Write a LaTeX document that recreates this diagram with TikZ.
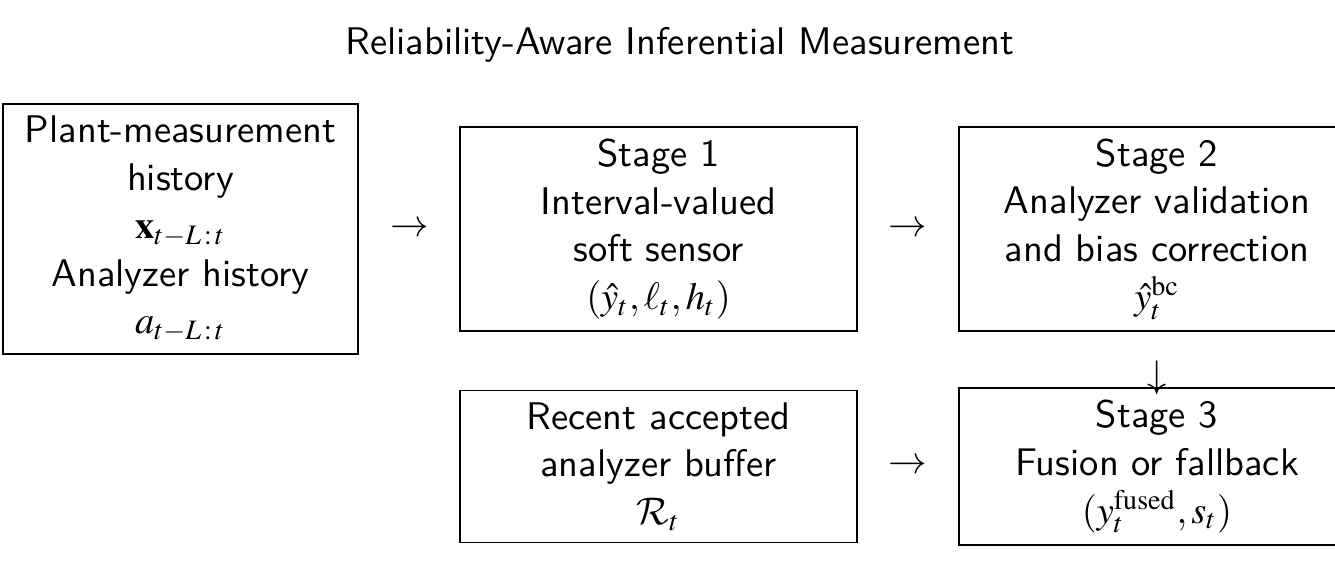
\documentclass[tikz,border=0pt]{standalone}
\usepackage{amsmath,amssymb}
\usepackage{mathptmx}
\DeclareMathAlphabet{\mathcal}{OMS}{cmsy}{m}{n}
\usepackage{xcolor}
\usepackage{tikz}
\usetikzlibrary{calc}
\definecolor{ink}{HTML}{000000}
\tikzset{
  stagebox/.style={draw=ink, line width=0.5pt, align=center, text=ink,
    font=\sffamily\fontsize{10.95}{13.6}\selectfont},
  widebox/.style={stagebox, text width=3.73cm},
  histbox/.style={stagebox, text width=3.32cm},
  flowsym/.style={text=ink, inner sep=0pt, font=\fontsize{10.95}{13.6}\selectfont},
  headline/.style={text=ink, font=\sffamily\fontsize{10.95}{13.6}\selectfont}
}
\begin{document}
\begin{tikzpicture}
  \useasboundingbox (0,0) rectangle (13.35,-5.65);

  \node[headline] (title) at (6.8,-0.45) {Reliability-Aware Inferential Measurement};

  \node[histbox] (hist) at (1.805,-2.29)
    {Plant-measurement\\history\\$\mathbf{x}_{t-L\,:\,t}$\\Analyzer history\\$a_{t-L\,:\,t}$};

  \node[widebox] (s1) at (6.585,-2.29)
    {Stage 1\\Interval-valued\\soft sensor\\$(\hat{y}_t, \ell_t, h_t)$};
  \node[widebox] (s2) at (11.57,-2.29)
    {Stage 2\\Analyzer validation\\and bias correction\\$\hat{y}_t^{\mathrm{bc}}$};

  \node[widebox] (buf) at (6.585,-4.665)
    {Recent accepted\\analyzer buffer\\$\mathcal{R}_t$};
  \node[widebox] (s3) at (11.57,-4.665)
    {Stage 3\\Fusion or fallback\\$(y_t^{\mathrm{fused}}, s_t)$};

  \node[flowsym] (a1) at ($(hist.east)!0.5!(s1.west)$) {$\rightarrow$};
  \node[flowsym] (a2) at ($(s1.east)!0.5!(s2.west)$) {$\rightarrow$};
  \node[flowsym] (a3) at ($(buf.east)!0.5!(s3.west)$) {$\rightarrow$};
  \node[flowsym] (a4) at ($(s3.north)+(0,0.10)$) {$\downarrow$};
\end{tikzpicture}
\end{document}
